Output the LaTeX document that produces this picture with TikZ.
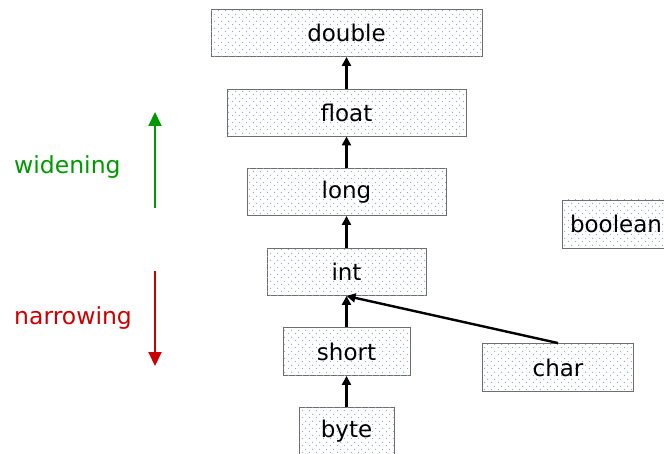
\documentclass[tikz,border=0pt]{standalone}
\usepackage{fontspec}
\setmainfont{DejaVu Sans}
\usetikzlibrary{arrows.meta,patterns.meta}
\tikzdeclarepattern{name=boxdots, type=uncolored,
  bottom left={(0pt,0pt)}, top right={(7pt,7pt)}, tile size={(7pt,7pt)},
  code={\fill (1.75pt,1.75pt) circle (0.7pt); \fill (5.25pt,5.25pt) circle (0.7pt);}}
\definecolor{dotc}{RGB}{150,165,195}
\definecolor{wgreen}{RGB}{0,153,0}
\definecolor{nred}{RGB}{204,0,0}
\definecolor{edgec}{RGB}{110,110,110}
\tikzset{
  tbox/.style={draw=edgec, line width=0.9pt, fill=white,
    postaction={pattern=boxdots, pattern color=dotc},
    minimum height=47pt, inner sep=0pt, font=\fontsize{23}{27}\selectfont, text=black},
  conv/.style={line width=2.4pt, -{Triangle[width=9pt,length=9pt]}},
  dir/.style={line width=2pt, -{Triangle[width=13pt,length=14pt]}},
  lab/.style={font=\fontsize{23.5}{27}\selectfont, anchor=west, inner sep=0pt}
}
\begin{document}
\begin{tikzpicture}[x=1pt,y=1pt]
\useasboundingbox (0,0) rectangle (664,453);
\begin{scope}
\clip (0,0) rectangle (664,453);
\node[tbox, minimum width=271pt] (double) at (346.5,420) {double};
\node[tbox, minimum width=239pt] (float) at (346.5,340.5) {float};
\node[tbox, minimum width=199pt] (long) at (346.5,261) {long};
\node[tbox, minimum width=159pt] (int) at (346.5,181) {int};
\node[tbox, minimum width=127pt, minimum height=48pt] (short) at (346.5,101.5) {short};
\node[tbox, minimum width=95pt] (byte) at (346.5,22) {byte};
\node[tbox, minimum width=151pt, minimum height=48pt] (char) at (558,85.5) {char};
\node[tbox, minimum width=124pt, minimum height=48pt, text width=124pt, align=left] (boolean) at (624,229) {\hspace*{8pt}boolean};
\end{scope}
\draw[conv] (float.north) -- (double.south);
\draw[conv] (long.north) -- (float.south);
\draw[conv] (int.north) -- (long.south);
\draw[conv] (short.north) -- (int.south);
\draw[conv] (byte.north) -- (short.south);
\draw[conv] (char.north) -- (int.south);
\coordinate (wa) at (155,245);
\coordinate (wb) at (155,341);
\coordinate (na) at (155,182);
\coordinate (nb) at (155,87);
\draw[dir, wgreen] (wa) -- (wb);
\draw[dir, nred] (na) -- (nb);
\node[lab, text=wgreen] (widening) at (14,286) {widening};
\node[lab, text=nred] (narrowing) at (14,135) {narrowing};
\end{tikzpicture}
\end{document}
